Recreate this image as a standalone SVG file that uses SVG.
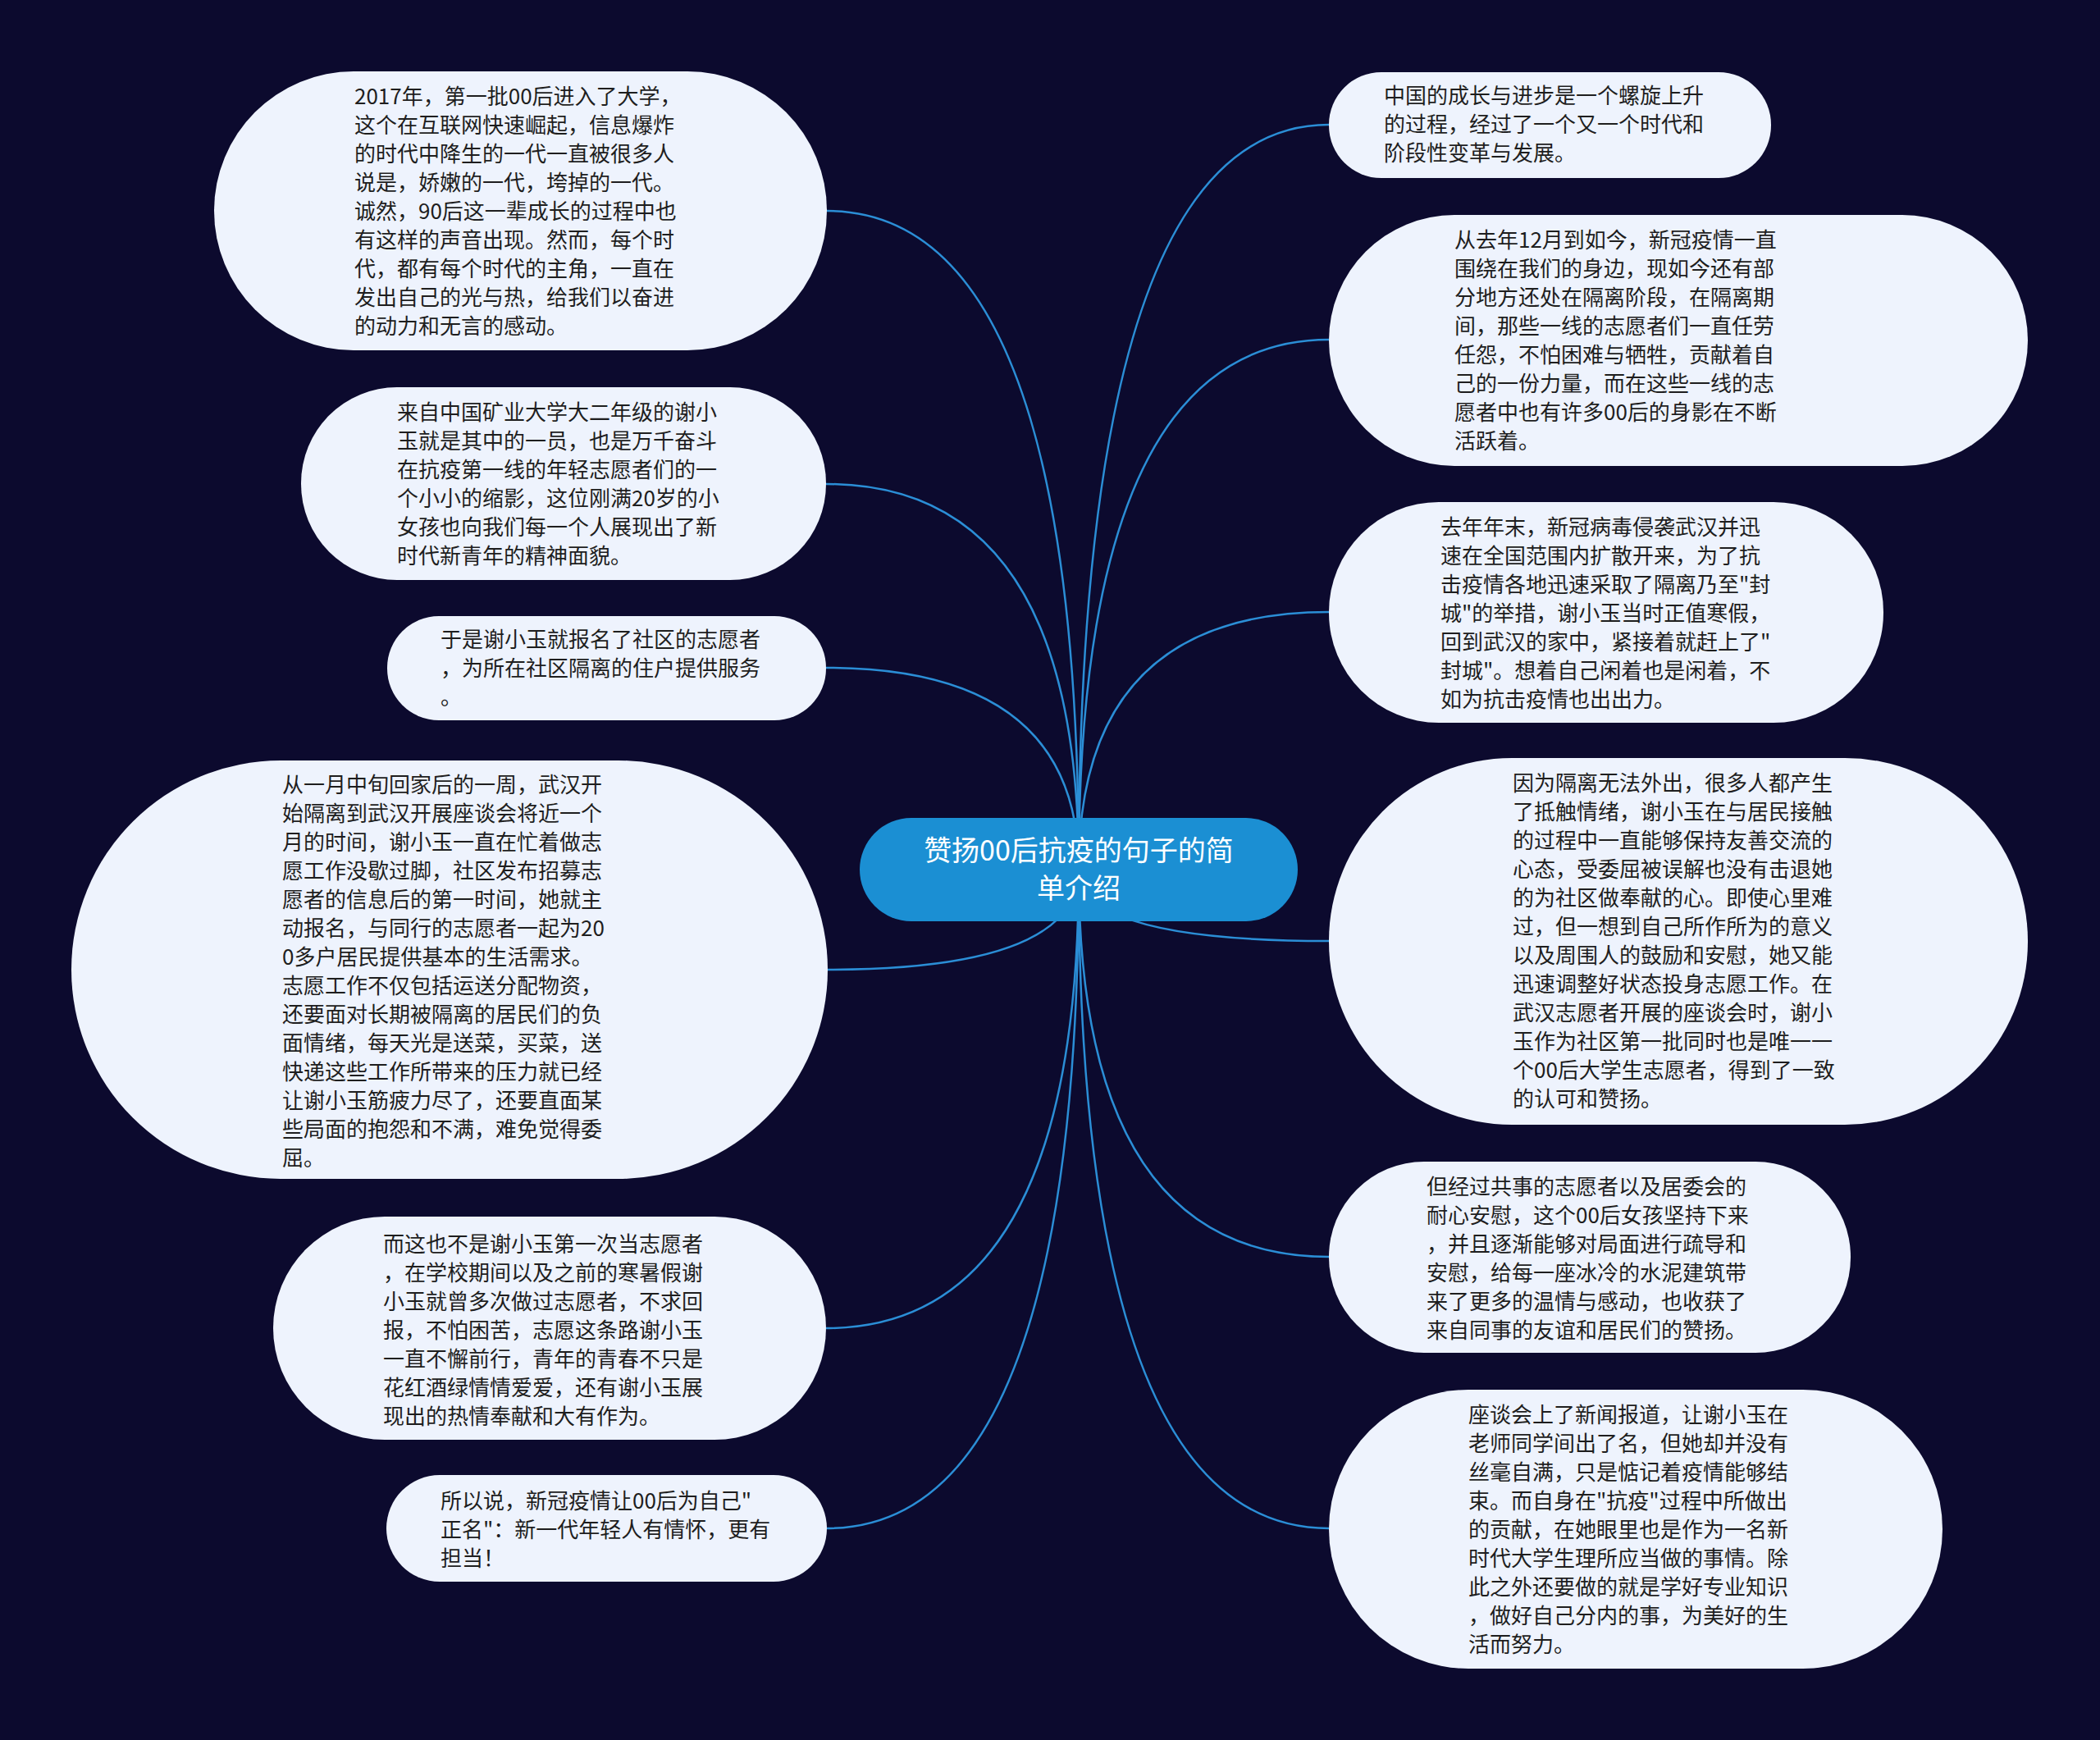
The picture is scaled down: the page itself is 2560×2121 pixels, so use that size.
<svg xmlns="http://www.w3.org/2000/svg" width="2560" height="2121" viewBox="0 0 2560 2121">
<style>
.bg{fill:#0c0a2e}
.node{fill:#eef3fd}
.root{fill:#1b8fd3}
.t{font-family:"Noto Sans CJK SC","Noto Sans",sans-serif;font-size:26px;fill:#1e1e1e}
.rt{font-family:"Noto Sans CJK SC","Noto Sans",sans-serif;font-size:34px;fill:#ffffff;text-anchor:middle}
.edge{fill:none;stroke:#2b8ed6;stroke-width:2.5}
</style>
<rect class="bg" x="0" y="0" width="2560" height="2121"/>
<g id="connectors">
<path class="edge" d="M1315 1060 Q1315 257 1008 257"/>
<path class="edge" d="M1315 1060 Q1315 590 1007 590"/>
<path class="edge" d="M1315 1060 Q1315 814 1007 814"/>
<path class="edge" d="M1315 1060 Q1315 1182 1009 1182"/>
<path class="edge" d="M1315 1060 Q1315 1619 1007 1619"/>
<path class="edge" d="M1315 1060 Q1315 1863 1008 1863"/>
<path class="edge" d="M1315 1060 Q1315 152 1620 152"/>
<path class="edge" d="M1315 1060 Q1315 414 1620 414"/>
<path class="edge" d="M1315 1060 Q1315 746 1620 746"/>
<path class="edge" d="M1315 1060 Q1315 1147 1620 1147"/>
<path class="edge" d="M1315 1060 Q1315 1532 1620 1532"/>
<path class="edge" d="M1315 1060 Q1315 1863 1620 1863"/>
</g>
<g id="root">
<rect class="root" x="1048" y="997" width="534" height="126" rx="63"/>
<text class="rt"><tspan x="1315" y="1049">赞扬00后抗疫的句子的简</tspan><tspan x="1315" y="1095">单介绍</tspan></text>
</g>
<g id="n1">
<rect class="node" x="261" y="87" width="747" height="340" rx="170"/>
<text class="t"><tspan x="432" y="127">2017年，第一批00后进入了大学，</tspan><tspan x="432" y="162">这个在互联网快速崛起，信息爆炸</tspan><tspan x="432" y="197">的时代中降生的一代一直被很多人</tspan><tspan x="432" y="232">说是，娇嫩的一代，垮掉的一代。</tspan><tspan x="432" y="267">诚然，90后这一辈成长的过程中也</tspan><tspan x="432" y="302">有这样的声音出现。然而，每个时</tspan><tspan x="432" y="337">代，都有每个时代的主角，一直在</tspan><tspan x="432" y="372">发出自己的光与热，给我们以奋进</tspan><tspan x="432" y="407">的动力和无言的感动。</tspan></text>
</g>
<g id="n2">
<rect class="node" x="367" y="472" width="640" height="235" rx="117"/>
<text class="t"><tspan x="484" y="512">来自中国矿业大学大二年级的谢小</tspan><tspan x="484" y="547">玉就是其中的一员，也是万千奋斗</tspan><tspan x="484" y="582">在抗疫第一线的年轻志愿者们的一</tspan><tspan x="484" y="617">个小小的缩影，这位刚满20岁的小</tspan><tspan x="484" y="652">女孩也向我们每一个人展现出了新</tspan><tspan x="484" y="687">时代新青年的精神面貌。</tspan></text>
</g>
<g id="n3">
<rect class="node" x="472" y="751" width="535" height="127" rx="63"/>
<text class="t"><tspan x="537" y="789">于是谢小玉就报名了社区的志愿者</tspan><tspan x="537" y="824">，为所在社区隔离的住户提供服务</tspan><tspan x="537" y="859">。</tspan></text>
</g>
<g id="n4">
<rect class="node" x="87" y="927" width="922" height="510" rx="255"/>
<text class="t"><tspan x="344" y="966">从一月中旬回家后的一周，武汉开</tspan><tspan x="344" y="1001">始隔离到武汉开展座谈会将近一个</tspan><tspan x="344" y="1036">月的时间，谢小玉一直在忙着做志</tspan><tspan x="344" y="1071">愿工作没歇过脚，社区发布招募志</tspan><tspan x="344" y="1106">愿者的信息后的第一时间，她就主</tspan><tspan x="344" y="1141">动报名，与同行的志愿者一起为20</tspan><tspan x="344" y="1176">0多户居民提供基本的生活需求。</tspan><tspan x="344" y="1211">志愿工作不仅包括运送分配物资，</tspan><tspan x="344" y="1246">还要面对长期被隔离的居民们的负</tspan><tspan x="344" y="1281">面情绪，每天光是送菜，买菜，送</tspan><tspan x="344" y="1316">快递这些工作所带来的压力就已经</tspan><tspan x="344" y="1351">让谢小玉筋疲力尽了，还要直面某</tspan><tspan x="344" y="1386">些局面的抱怨和不满，难免觉得委</tspan><tspan x="344" y="1421">屈。</tspan></text>
</g>
<g id="n5">
<rect class="node" x="333" y="1483" width="674" height="272" rx="136"/>
<text class="t"><tspan x="467" y="1526">而这也不是谢小玉第一次当志愿者</tspan><tspan x="467" y="1561">，在学校期间以及之前的寒暑假谢</tspan><tspan x="467" y="1596">小玉就曾多次做过志愿者，不求回</tspan><tspan x="467" y="1631">报，不怕困苦，志愿这条路谢小玉</tspan><tspan x="467" y="1666">一直不懈前行，青年的青春不只是</tspan><tspan x="467" y="1701">花红酒绿情情爱爱，还有谢小玉展</tspan><tspan x="467" y="1736">现出的热情奉献和大有作为。</tspan></text>
</g>
<g id="n6">
<rect class="node" x="471" y="1798" width="537" height="130" rx="65"/>
<text class="t"><tspan x="537" y="1839">所以说，新冠疫情让00后为自己"</tspan><tspan x="537" y="1874">正名"：新一代年轻人有情怀，更有</tspan><tspan x="537" y="1909">担当！</tspan></text>
</g>
<g id="r1">
<rect class="node" x="1620" y="88" width="539" height="129" rx="64"/>
<text class="t"><tspan x="1687" y="126">中国的成长与进步是一个螺旋上升</tspan><tspan x="1687" y="161">的过程，经过了一个又一个时代和</tspan><tspan x="1687" y="196">阶段性变革与发展。</tspan></text>
</g>
<g id="r2">
<rect class="node" x="1620" y="262" width="852" height="306" rx="153"/>
<text class="t"><tspan x="1773" y="302">从去年12月到如今，新冠疫情一直</tspan><tspan x="1773" y="337">围绕在我们的身边，现如今还有部</tspan><tspan x="1773" y="372">分地方还处在隔离阶段，在隔离期</tspan><tspan x="1773" y="407">间，那些一线的志愿者们一直任劳</tspan><tspan x="1773" y="442">任怨，不怕困难与牺牲，贡献着自</tspan><tspan x="1773" y="477">己的一份力量，而在这些一线的志</tspan><tspan x="1773" y="512">愿者中也有许多00后的身影在不断</tspan><tspan x="1773" y="547">活跃着。</tspan></text>
</g>
<g id="r3">
<rect class="node" x="1620" y="612" width="676" height="269" rx="134"/>
<text class="t"><tspan x="1756" y="652">去年年末，新冠病毒侵袭武汉并迅</tspan><tspan x="1756" y="687">速在全国范围内扩散开来，为了抗</tspan><tspan x="1756" y="722">击疫情各地迅速采取了隔离乃至"封</tspan><tspan x="1756" y="757">城"的举措，谢小玉当时正值寒假，</tspan><tspan x="1756" y="792">回到武汉的家中，紧接着就赶上了"</tspan><tspan x="1756" y="827">封城"。想着自己闲着也是闲着，不</tspan><tspan x="1756" y="862">如为抗击疫情也出出力。</tspan></text>
</g>
<g id="r4">
<rect class="node" x="1620" y="924" width="852" height="447" rx="223"/>
<text class="t"><tspan x="1844" y="964">因为隔离无法外出，很多人都产生</tspan><tspan x="1844" y="999">了抵触情绪，谢小玉在与居民接触</tspan><tspan x="1844" y="1034">的过程中一直能够保持友善交流的</tspan><tspan x="1844" y="1069">心态，受委屈被误解也没有击退她</tspan><tspan x="1844" y="1104">的为社区做奉献的心。即使心里难</tspan><tspan x="1844" y="1139">过，但一想到自己所作所为的意义</tspan><tspan x="1844" y="1174">以及周围人的鼓励和安慰，她又能</tspan><tspan x="1844" y="1209">迅速调整好状态投身志愿工作。在</tspan><tspan x="1844" y="1244">武汉志愿者开展的座谈会时，谢小</tspan><tspan x="1844" y="1279">玉作为社区第一批同时也是唯一一</tspan><tspan x="1844" y="1314">个00后大学生志愿者，得到了一致</tspan><tspan x="1844" y="1349">的认可和赞扬。</tspan></text>
</g>
<g id="r5">
<rect class="node" x="1620" y="1416" width="636" height="233" rx="116"/>
<text class="t"><tspan x="1739" y="1456">但经过共事的志愿者以及居委会的</tspan><tspan x="1739" y="1491">耐心安慰，这个00后女孩坚持下来</tspan><tspan x="1739" y="1526">，并且逐渐能够对局面进行疏导和</tspan><tspan x="1739" y="1561">安慰，给每一座冰冷的水泥建筑带</tspan><tspan x="1739" y="1596">来了更多的温情与感动，也收获了</tspan><tspan x="1739" y="1631">来自同事的友谊和居民们的赞扬。</tspan></text>
</g>
<g id="r6">
<rect class="node" x="1620" y="1694" width="748" height="340" rx="170"/>
<text class="t"><tspan x="1790" y="1734">座谈会上了新闻报道，让谢小玉在</tspan><tspan x="1790" y="1769">老师同学间出了名，但她却并没有</tspan><tspan x="1790" y="1804">丝毫自满，只是惦记着疫情能够结</tspan><tspan x="1790" y="1839">束。而自身在"抗疫"过程中所做出</tspan><tspan x="1790" y="1874">的贡献，在她眼里也是作为一名新</tspan><tspan x="1790" y="1909">时代大学生理所应当做的事情。除</tspan><tspan x="1790" y="1944">此之外还要做的就是学好专业知识</tspan><tspan x="1790" y="1979">，做好自己分内的事，为美好的生</tspan><tspan x="1790" y="2014">活而努力。</tspan></text>
</g>
</svg>
